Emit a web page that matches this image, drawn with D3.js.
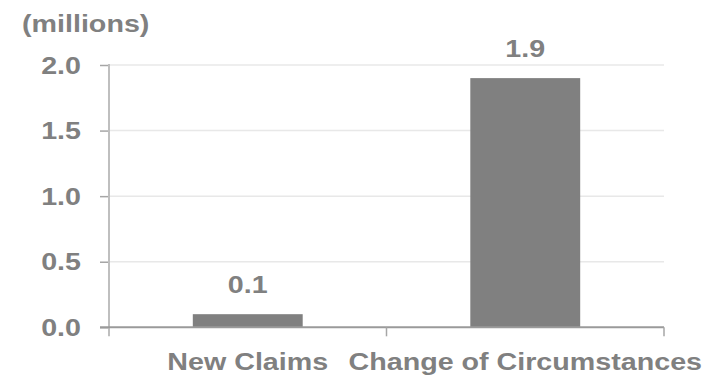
<!DOCTYPE html>
<html><head><meta charset="utf-8">
<script src="https://cdn.jsdelivr.net/npm/d3@7"></script>
<style>body{margin:0;background:#fff}svg{display:block}text{font-family:"Liberation Sans",Arial,sans-serif;font-weight:bold;fill:#808080}</style>
</head><body>
<script>
const categories = ["New Claims", "Change of Circumstances"];
const values = [0.1, 1.9];
const valueLabels = ["0.1", "1.9"];
const yTicks = [0, 0.5, 1.0, 1.5, 2.0];
const unitLabel = "(millions)";

const W = 724, H = 377;
const mLeft = 109, mRight = 664, mTop = 65, mBottom = 327.3;
const sx = 1.17, fs = 24.5;

const svg = d3.select("body").append("svg").attr("width", W).attr("height", H);
const x = d3.scaleBand().domain(categories).range([mLeft, mRight]).paddingInner(0.604).paddingOuter(0.302);
const y = d3.scaleLinear().domain([0, 2]).range([mBottom, mTop]);

function stext(g, tx, ty, str, anchor) {
  return g.append("text").attr("transform", `translate(${tx},${ty}) scale(${sx},1)`)
    .attr("text-anchor", anchor).style("font-size", fs + "px").text(str);
}

// gridlines
svg.append("g").selectAll("line").data(yTicks.filter(d => d > 0)).join("line")
  .attr("x1", mLeft).attr("x2", mRight).attr("y1", d => y(d)).attr("y2", d => y(d))
  .attr("stroke", "#e8e8e8").attr("stroke-width", 1.5);

// bars
svg.append("g").selectAll("rect").data(values).join("rect")
  .attr("x", (d, i) => x(categories[i])).attr("width", x.bandwidth())
  .attr("y", d => y(d)).attr("height", d => y(0) - y(d)).attr("fill", "#808080");

// y axis
const ya = svg.append("g").attr("transform", `translate(${mLeft},0)`)
  .call(d3.axisLeft(y).tickValues(yTicks).tickFormat(d3.format(".1f")).tickSize(9).tickPadding(0));
ya.select(".domain").remove();
ya.selectAll(".tick line").attr("stroke", "#a6a6a6").attr("stroke-width", 1.5);
ya.selectAll(".tick text").remove();
yTicks.forEach(t => stext(svg, 81, y(t) + 8.5, d3.format(".1f")(t), "end"));
svg.append("line").attr("x1", mLeft).attr("x2", mLeft).attr("y1", mTop - 1).attr("y2", mBottom + 9)
  .attr("stroke", "#bfbfbf").attr("stroke-width", 2);

// x axis
svg.append("line").attr("x1", mLeft - 9).attr("x2", mRight).attr("y1", mBottom).attr("y2", mBottom)
  .attr("stroke", "#9a9a9a").attr("stroke-width", 2);
svg.append("g").selectAll("line").data([(mLeft + mRight) / 2, mRight]).join("line")
  .attr("x1", d => d).attr("x2", d => d).attr("y1", mBottom).attr("y2", mBottom + 9)
  .attr("stroke", "#a6a6a6").attr("stroke-width", 1.5);

// category labels
categories.forEach(c => stext(svg, x(c) + x.bandwidth() / 2, 370, c, "middle"));

// value labels
values.forEach((v, i) => stext(svg, x(categories[i]) + x.bandwidth() / 2, y(v) - 21, valueLabels[i], "middle"));

// unit label
stext(svg, 22, 32, unitLabel, "start");
</script>
</body></html>
